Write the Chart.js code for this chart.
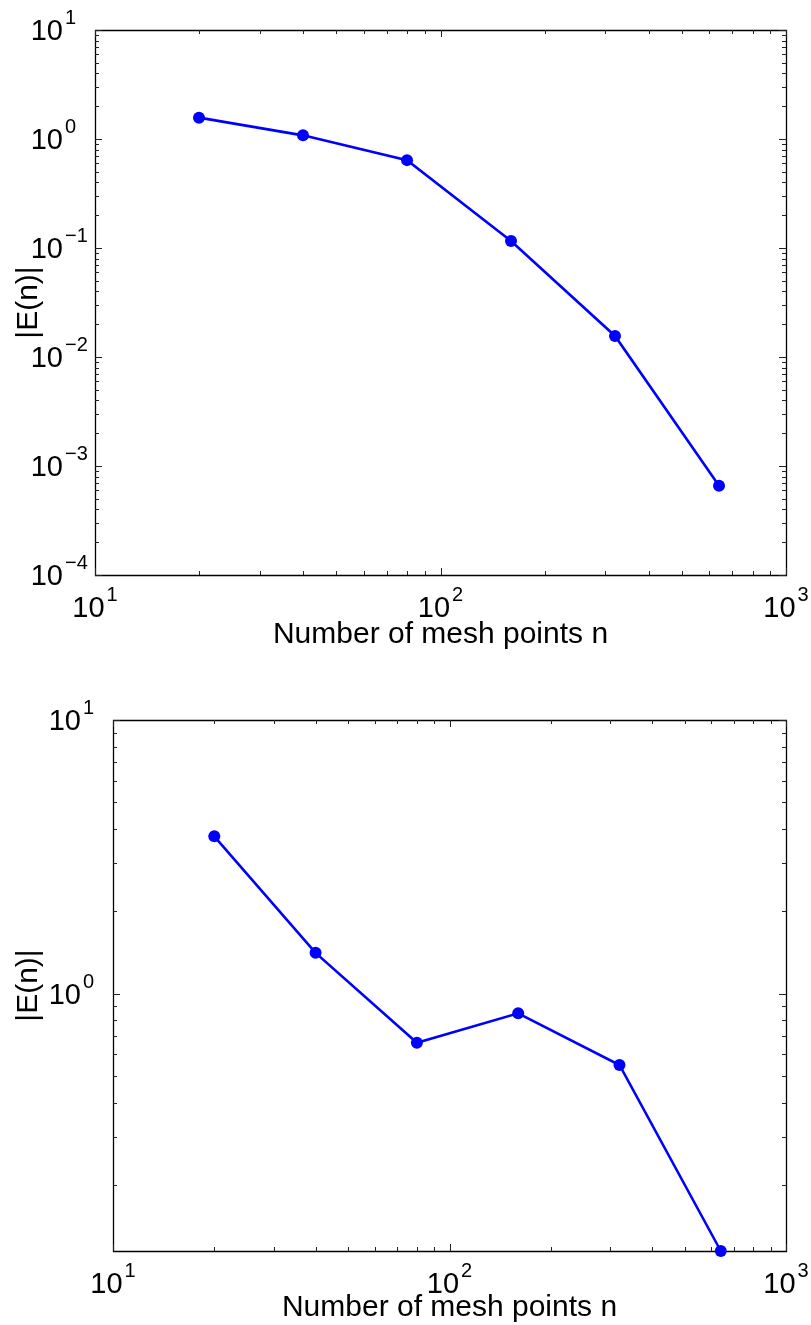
<!DOCTYPE html>
<html>
<head>
<meta charset="utf-8">
<title>Error vs mesh points</title>
<script src="https://cdn.jsdelivr.net/npm/chart.js@4.4.0/dist/chart.umd.min.js"></script>
<style>
  body { margin: 0; background: #fff; }
  #wrap { position: relative; width: 811px; height: 1325px; }
  canvas { position: absolute; left: 0; }
</style>
</head>
<body>
<div id="wrap">
  <canvas id="topChart" width="811" height="650" style="top:0"></canvas>
  <canvas id="bottomChart" width="811" height="675" style="top:650px"></canvas>
</div>
<script>
const meshPoints = [20, 40, 80, 160, 320, 640];
const errorTop = [1.57, 1.08, 0.64, 0.116, 0.0156, 0.00066];
const errorBottom = [3.76, 1.41, 0.662, 0.848, 0.549, 0.1148];

// decade labels, drawn as 10^k
const xExponents = [1, 2, 3];
const yExponentsTop = [-4, -3, -2, -1, 0, 1];
const yExponentsBottom = [0, 1];

const xTitle = 'Number of mesh points n';
const yTitle = '|E(n)|';

const family = '"Liberation Sans", Arial, Helvetica, sans-serif';
const baseSize = 29;
const supSize = 20;
const titleSize = 30;

// 1..9 x 10^k ticks inside [min, max]
function logTicks(min, max) {
    const out = [];
    for (let e = Math.floor(Math.log10(min)); e <= Math.ceil(Math.log10(max)); e++) {
        for (let m = 1; m < 10; m++) {
            const v = m * Math.pow(10, e);
            if (v >= min * 0.999 && v <= max * 1.001) out.push({ v: v, major: m === 1 });
        }
    }
    return out;
}

function supText(exp) {
    return exp < 0 ? '\u2212' + (-exp) : String(exp);
}

// draws "10" with a raised exponent; cx/cy = centre of the digits
function drawPower(ctx, exp, cx, cy, align) {
    const sup = supText(exp);
    ctx.font = baseSize + 'px ' + family;
    const bw = ctx.measureText('10').width;
    ctx.font = supSize + 'px ' + family;
    const sw = ctx.measureText(sup).width;
    const gap = 2;
    let bx = cx - bw;
    if (align === 'center') bx = cx - (bw + gap + sw) / 2;
    ctx.textAlign = 'left';
    ctx.textBaseline = 'alphabetic';
    ctx.font = baseSize + 'px ' + family;
    ctx.fillText('10', bx, cy + 0.358 * baseSize);
    ctx.font = supSize + 'px ' + family;
    ctx.fillText(sup, bx + bw + gap, cy - 13 + 0.358 * supSize);
}

const logAxes = {
    id: 'logAxes',
    beforeDatasetsDraw(chart, args, opts) {
        const ctx = chart.ctx;
        const a = chart.chartArea;
        const xs = chart.scales.x;
        const ys = chart.scales.y;
        ctx.save();
        ctx.strokeStyle = '#000';
        ctx.lineWidth = 1.3;
        ctx.beginPath();
        ctx.rect(a.left + 0.5, a.top + 0.5, a.right - a.left, a.bottom - a.top);
        ctx.stroke();

        ctx.strokeStyle = '#222';
        ctx.lineWidth = 1;
        ctx.beginPath();
        logTicks(xs.min, xs.max).forEach(t => {
            const px = Math.round(xs.getPixelForValue(t.v)) + 0.5;
            const len = t.major ? 7 : 4;
            ctx.moveTo(px, a.bottom);
            ctx.lineTo(px, a.bottom - len);
            ctx.moveTo(px, a.top);
            ctx.lineTo(px, a.top + len);
        });
        logTicks(ys.min, ys.max).forEach(t => {
            const py = Math.round(ys.getPixelForValue(t.v)) + 0.5;
            const len = t.major ? 7 : 4;
            ctx.moveTo(a.left, py);
            ctx.lineTo(a.left + len, py);
            ctx.moveTo(a.right, py);
            ctx.lineTo(a.right - len, py);
        });
        ctx.stroke();
        ctx.restore();
    },
    afterDraw(chart, args, opts) {
        const ctx = chart.ctx;
        const a = chart.chartArea;
        const xs = chart.scales.x;
        const ys = chart.scales.y;
        ctx.save();
        ctx.fillStyle = '#000';

        opts.yExponents.forEach(k => {
            drawPower(ctx, k, a.left - 32, ys.getPixelForValue(Math.pow(10, k)), 'right');
        });
        opts.xExponents.forEach(k => {
            drawPower(ctx, k, xs.getPixelForValue(Math.pow(10, k)), a.bottom + 32, 'center');
        });

        ctx.font = titleSize + 'px ' + family;
        ctx.textAlign = 'center';
        ctx.textBaseline = 'alphabetic';
        ctx.fillText(xTitle, (a.left + a.right) / 2, a.bottom + opts.xTitleOffset);

        ctx.translate(29, (a.top + a.bottom) / 2);
        ctx.rotate(-Math.PI / 2);
        ctx.textBaseline = 'middle';
        ctx.fillText(yTitle, 0, 0);
        ctx.restore();
    }
};

function makeChart(id, values, yMin, yMax, yExponents, padding, xTitleOffset) {
    const ctx = document.getElementById(id).getContext('2d');
    return new Chart(ctx, {
        type: 'line',
        data: {
            datasets: [{
                data: meshPoints.map((n, i) => ({ x: n, y: values[i] })),
                borderColor: '#0000ff',
                backgroundColor: '#0000ff',
                borderWidth: 2.6,
                pointRadius: 6,
                pointBorderWidth: 0,
                pointBackgroundColor: '#0000ff',
                tension: 0,
                fill: false,
                clip: false
            }]
        },
        options: {
            responsive: false,
            animation: false,
            events: [],
            layout: { padding: padding },
            scales: {
                x: { type: 'logarithmic', min: 10, max: 1000, display: false },
                y: { type: 'logarithmic', min: yMin, max: yMax, display: false }
            },
            plugins: {
                legend: { display: false },
                tooltip: { enabled: false },
                logAxes: { xExponents: xExponents, yExponents: yExponents, xTitleOffset: xTitleOffset }
            }
        },
        plugins: [logAxes]
    });
}

const topChart = makeChart('topChart', errorTop, 1e-4, 10, yExponentsTop,
    { left: 95, top: 30, right: 25, bottom: 75 }, 68);
const bottomChart = makeChart('bottomChart', errorBottom, 0.1148, 10, yExponentsBottom,
    { left: 113, top: 70, right: 25, bottom: 74 }, 65);
</script>
</body>
</html>
